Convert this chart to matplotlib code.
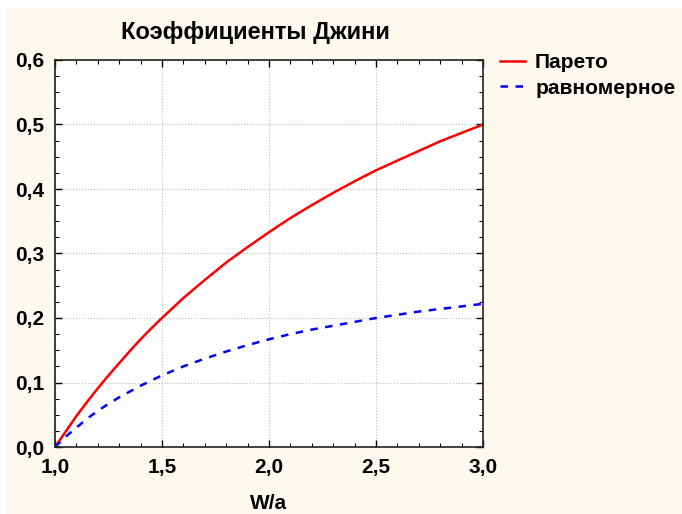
import matplotlib
matplotlib.use("Agg")
import matplotlib.pyplot as plt
from matplotlib.patches import Rectangle
from matplotlib.ticker import MultipleLocator, FuncFormatter

# W/a values and Gini coefficients
w_a = [1.0, 1.05, 1.1, 1.15, 1.2, 1.25, 1.3, 1.35, 1.4, 1.45, 1.5, 1.6, 1.7, 1.8, 1.9, 2.0,
       2.1, 2.2, 2.3, 2.4, 2.5, 2.6, 2.7, 2.8, 2.9, 3.0]
pareto = [0.0, 0.024, 0.048, 0.070, 0.091, 0.111, 0.130, 0.149, 0.167, 0.184, 0.200,
          0.231, 0.259, 0.286, 0.310, 0.333,
          0.355, 0.375, 0.394, 0.412, 0.429, 0.444, 0.459, 0.474, 0.487, 0.500]
uniform = [0.0, 0.016, 0.030, 0.044, 0.056, 0.067, 0.077, 0.086, 0.095, 0.103, 0.111,
           0.125, 0.137, 0.148, 0.158, 0.167,
           0.175, 0.182, 0.188, 0.194, 0.200, 0.205, 0.210, 0.214, 0.218, 0.222]

plt.rcParams['font.family'] = ['Liberation Sans', 'DejaVu Sans']
plt.rcParams['font.weight'] = 'bold'

W, H = 682, 514
fig = plt.figure(figsize=(W / 100, H / 100), dpi=100, facecolor='white')
# cream panel behind the chart
fig.add_artist(Rectangle((7 / W, 0), 1, 1 - 8 / H, transform=fig.transFigure,
                         facecolor='#fdf9ef', edgecolor='none', zorder=-10))

ax = fig.add_axes([55 / W, 1 - 447 / H, (483 - 55) / W, (447 - 60) / H])
ax.set_zorder(5)
ax.set_facecolor('white')

ax.plot(w_a, pareto, color='#ff0000', lw=1.8, label='Парето')
ax.plot(w_a, uniform, color='#0000ff', lw=1.8, ls=(0, (3, 3)), label='равномерное')

ax.set_xlim(1.0, 3.0)
ax.set_ylim(0.0, 0.6)
ax.xaxis.set_major_locator(MultipleLocator(0.5))
ax.xaxis.set_minor_locator(MultipleLocator(0.1))
ax.yaxis.set_major_locator(MultipleLocator(0.1))
ax.yaxis.set_minor_locator(MultipleLocator(0.025))
fmt = FuncFormatter(lambda v, p: f'{v:.1f}'.replace('.', ','))
ax.xaxis.set_major_formatter(fmt)
ax.yaxis.set_major_formatter(fmt)

ax.tick_params(which='both', direction='in', top=True, right=True, labelsize=15)
ax.tick_params(which='major', length=5, width=1)
ax.tick_params(which='minor', length=3, width=0.8)
ax.tick_params(axis='x', pad=8)
ax.tick_params(axis='y', pad=8)
ax.grid(True, which='major', color='#bbbbbb', ls=':', lw=0.8)
for s in ax.spines.values():
    s.set_linewidth(1.2)
    s.set_color('#222222')

ax.set_xlabel('W/a', fontsize=15, fontweight='bold', labelpad=12)
fig.text(255 / W, 1 - 32 / H, 'Коэффициенты Джини', ha='center', va='center',
         fontsize=17, fontweight='bold')

ax.legend(loc='upper left', bbox_to_anchor=(1.0, 1.06), frameon=False,
          fontsize=15, handlelength=1.2, handletextpad=0.5, labelspacing=0.3,
          borderaxespad=0.4)

fig.savefig('out.png', dpi=100, facecolor=fig.get_facecolor())
